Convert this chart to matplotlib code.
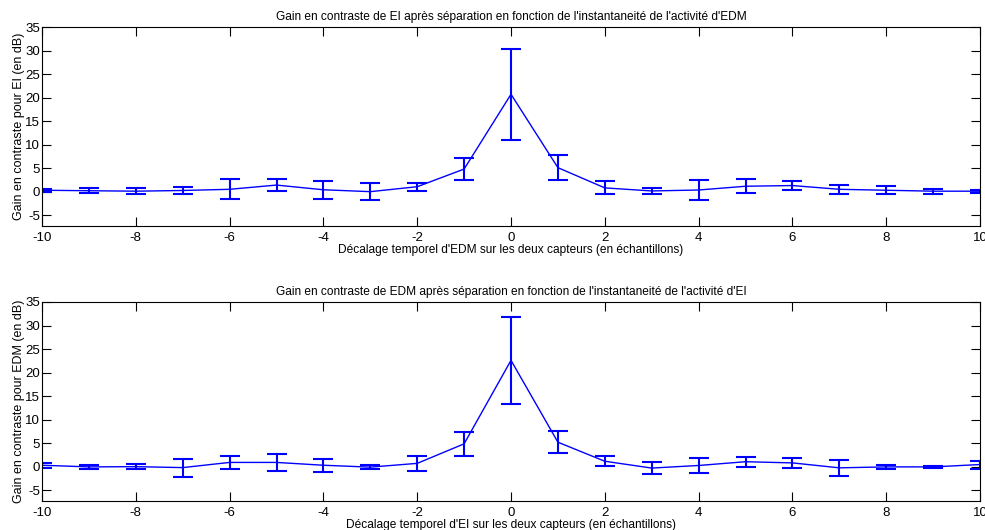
import matplotlib
matplotlib.use("Agg")
import matplotlib.pyplot as plt
import numpy as np

# décalages temporels (en échantillons)
lags = list(range(-10, 11))

# gain en contraste de EI (haut)
gain_ei = [0.3, 0.2, 0.1, 0.25, 0.5, 1.4, 0.4, 0.0, 1.05, 4.8, 20.7,
           5.1, 0.8, 0.15, 0.35, 1.15, 1.3, 0.5, 0.3, 0.1, 0.1]
err_ei = [0.35, 0.55, 0.6, 0.75, 2.15, 1.2, 1.95, 1.75, 0.85, 2.4, 9.65,
          2.6, 1.4, 0.65, 2.1, 1.5, 0.9, 1.0, 0.8, 0.55, 0.35]

# gain en contraste de EDM (bas)
gain_edm = [0.3, -0.05, 0.0, -0.2, 0.9, 0.9, 0.3, -0.1, 0.7, 4.85, 22.6,
            5.2, 1.15, -0.3, 0.25, 1.05, 0.8, -0.25, -0.05, -0.05, 0.45]
err_edm = [0.55, 0.35, 0.55, 1.9, 1.4, 1.85, 1.35, 0.45, 1.65, 2.6, 9.2,
           2.4, 1.05, 1.3, 1.55, 1.1, 1.1, 1.75, 0.5, 0.2, 0.85]

titles = ["Gain en contraste de EI après séparation en fonction de l'instantaneité de l'activité d'EDM",
          "Gain en contraste de EDM après séparation en fonction de l'instantaneité de l'activité d'EI"]
xlabels = ["Décalage temporel d'EDM sur les deux capteurs (en échantillons)",
           "Décalage temporel d'EI sur les deux capteurs (en échantillons)"]
ylabels = ["Gain en contraste pour EI (en dB)",
           "Gain en contraste pour EDM (en dB)"]

plt.rcParams["font.family"] = ["Liberation Sans", "DejaVu Sans"]
plt.rcParams["axes.unicode_minus"] = False

fig = plt.figure(figsize=(9.85, 5.3), dpi=100)
W, H = 985, 530
# axes boxes in pixels: left, top, right, bottom
boxes = [(42, 27, 980, 226), (42, 302, 980, 501)]

for box, y, e, title, xl, yl in zip(boxes, [gain_ei, gain_edm], [err_ei, err_edm],
                                     titles, xlabels, ylabels):
    l, t, r, b = box
    ax = fig.add_axes([l / W, 1 - b / H, (r - l) / W, (b - t) / H])
    ax.errorbar(lags, y, yerr=e, color="#0000ff", lw=1.0, elinewidth=1.5,
                capsize=7.5, capthick=1.5)
    ax.set_xlim(-10, 10)
    ax.set_ylim(-7.3, 35)
    ax.set_xticks(np.arange(-10, 11, 2))
    ax.set_yticks(np.arange(-5, 36, 5))
    ax.tick_params(direction="in", length=6.5, width=0.8, top=True, right=True,
                   labelsize=9.5)
    ax.tick_params(axis="y", pad=1.5)
    ax.tick_params(axis="x", pad=4)
    for s in ax.spines.values():
        s.set_linewidth(0.8)
    ax.set_title(title, fontsize=8.6, pad=5)
    ax.set_xlabel(xl, fontsize=8.6, labelpad=0)
    ax.set_ylabel(yl, fontsize=9, labelpad=0)

fig.savefig("out.png", dpi=100)
